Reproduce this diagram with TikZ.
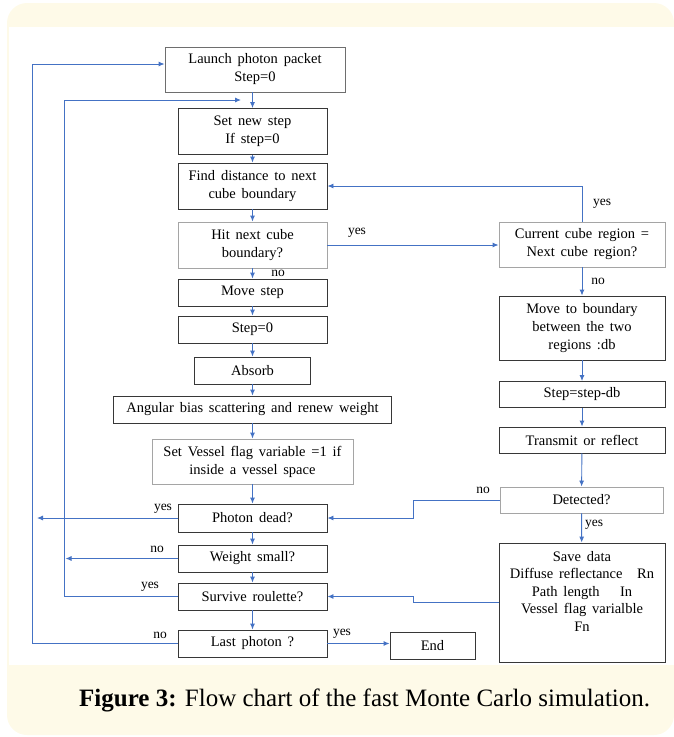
\documentclass[tikz,border=0pt]{standalone}
\usepackage{fontspec}
\setmainfont{Liberation Serif}
\newfontfamily\boxfont{Liberation Serif}[WordSpace=1.6]
\usetikzlibrary{arrows.meta}
\definecolor{cream}{RGB}{254,250,232}
\definecolor{flow}{RGB}{68,114,196}
\definecolor{dark}{RGB}{55,55,55}
\definecolor{light}{RGB}{165,165,165}
\definecolor{mid}{RGB}{110,110,110}
\begin{document}
\begin{tikzpicture}[x=1pt,y=-1pt,
  box/.style={draw=dark, line width=0.9pt, align=center, inner sep=0pt, fill=white,
              font=\boxfont\fontsize{14.5}{18}\selectfont},
  lbox/.style={box, draw=light},
  conn/.style={draw=flow, line width=0.9pt, -{Latex[length=6pt,width=5pt]}},
  lab/.style={font=\boxfont\fontsize{13.5}{16}\selectfont, inner sep=0pt}]
\useasboundingbox (0,0) rectangle (674,737);
% frame
\fill[cream, rounded corners=20pt] (7,3) rectangle (674,735);
\fill[white] (9,27) rectangle (674,665);

% left column
\node[box, draw=mid, minimum width=180pt, minimum height=45pt] (launch) at (255,69.5) {Launch photon packet\\Step=0};
\node[box, minimum width=149pt, minimum height=46pt] (set) at (252.5,131.5) {Set new step\\If step=0};
\node[box, minimum width=149pt, minimum height=46pt] (find) at (252.5,186) {Find distance to next\\cube boundary};
\node[lbox, minimum width=149pt, minimum height=46pt] (hit) at (252.5,245) {Hit next cube\\boundary?};
\node[box, minimum width=149pt, minimum height=27pt] (move) at (252.5,292.5) {Move step};
\node[box, minimum width=149pt, minimum height=27pt] (step0) at (252.5,329.5) {Step=0};
\node[box, minimum width=116pt, minimum height=27pt] (absorb) at (252.5,370.5) {Absorb};
\node[box, minimum width=278pt, minimum height=27pt] (angular) at (252.5,409.5) {Angular bias scattering and renew weight};
\node[lbox, minimum width=201pt, minimum height=45pt] (vessel) at (252.5,461.5) {Set Vessel flag variable =1 if\\inside a vessel space};
\node[box, minimum width=149pt, minimum height=28pt] (dead) at (252.5,518) {Photon dead?};
\node[box, minimum width=149pt, minimum height=27pt] (weight) at (252.5,558.5) {Weight small?};
\node[box, minimum width=149pt, minimum height=27pt] (survive) at (252.5,596.5) {Survive roulette?};
\node[box, minimum width=149pt, minimum height=27pt] (last) at (252.5,643.5) {Last photon ?};
\node[box, minimum width=85pt, minimum height=27pt] (end) at (432.5,645.5) {End};

% right column
\node[lbox, minimum width=166pt, minimum height=45pt] (current) at (582,244.5) {Current cube region =\\Next cube region?};
\node[box, minimum width=166pt, minimum height=64pt] (moveb) at (582,328) {Move to boundary\\between the two\\regions :db};
\node[box, minimum width=166pt, minimum height=26pt] (stepdb) at (582,394.5) {Step=step-db};
\node[box, minimum width=166pt, minimum height=26pt] (transmit) at (582,440) {Transmit or reflect};
\node[lbox, minimum width=163pt, minimum height=26pt] (detected) at (581.5,500) {Detected?};
\node[box, minimum width=166pt, minimum height=119pt, font=\boxfont\fontsize{14.5}{17.5}\selectfont] (save) at (582,602.5)
  {Save data\\Diffuse reflectance\quad Rn\\Path length\quad\ In\\Vessel flag varialble\\Fn\\[0pt]\strut};

% free ends
\coordinate (outc) at (32,64);
\coordinate (inc) at (64,100);
\coordinate (inend) at (241,100);
\coordinate (deadend) at (37,518);
\coordinate (weightend) at (65.5,558.5);
\coordinate (jog) at (413,500);

% vertical flow
\draw[conn] (set.north |- launch.south) -- (set.north);
\draw[conn] (set) -- (find);
\draw[conn] (find) -- (hit);
\draw[conn] (hit) -- (move);
\draw[conn] (move) -- (step0);
\draw[conn] (step0) -- (absorb);
\draw[conn] (absorb) -- (angular);
\draw[conn] (angular) -- (vessel);
\draw[conn] (vessel) -- (dead);
\draw[conn] (dead) -- (weight);
\draw[conn] (weight) -- (survive);
\draw[conn] (survive) -- (last);
\draw[conn] (last.east) -- (last.east -| end.west);

\draw[conn] (current) -- (moveb);
\draw[conn] (moveb) -- (stepdb);
\draw[conn] (stepdb) -- (transmit);
\draw[conn] (transmit) -- (detected);
\draw[conn] (detected) -- (save);

% branches
\draw[conn] (hit.east) -- (hit.east -| current.west);
\draw[conn] (current.north) |- (find.east);
\draw[conn] (detected.west) -- (jog) |- (dead.east);
\draw[conn] (save.west) -- (save.west -| jog) |- (survive.east);
\draw[conn] (last.west) -| (outc) -- (outc -| launch.west);
\draw[conn] (survive.west) -| (inc) -- (inend);
\draw[conn] (dead.west) -- (deadend);
\draw[conn] (weight.west) -- (weightend);

% labels
\node[lab] (l1) at (278,273) {no};
\node[lab] (l2) at (357,233) {yes};
\node[lab] (l3) at (602,204) {yes};
\node[lab] (l4) at (598,281) {no};
\node[lab] (l5) at (483,490) {no};
\node[lab] (l6) at (594,525) {yes};
\node[lab] (l7) at (163,509) {yes};
\node[lab] (l8) at (157,549) {no};
\node[lab] (l9) at (150,587) {yes};
\node[lab] (l10) at (160,635) {no};
\node[lab] (l11) at (342,634) {yes};

% caption
\node[anchor=base west, inner sep=0pt, font=\fontsize{25}{30}\selectfont] (cap) at (79,706)
  {\textbf{Figure 3:} Flow chart of the fast Monte Carlo simulation.};
\end{tikzpicture}
\end{document}
